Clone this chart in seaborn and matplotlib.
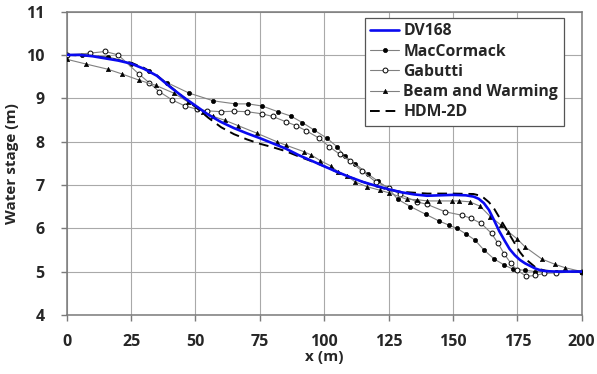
import matplotlib
matplotlib.use("Agg")
import matplotlib.pyplot as plt
import seaborn as sns

# Reference solution
dv_x = [0, 5, 10, 15, 20, 25, 30, 35, 40, 45, 50, 55, 60, 65, 70, 75, 80, 85, 90, 95,
        100, 105, 110, 115, 120, 125, 130, 135, 140, 145, 150, 155, 158, 160, 162, 164,
        166, 168, 170, 172, 174, 176, 178, 180, 182, 184, 186, 190, 195, 200]
dv_y = [10.0, 10.0, 9.97, 9.92, 9.87, 9.8, 9.68, 9.52, 9.27, 9.04, 8.83, 8.62, 8.45,
        8.31, 8.19, 8.08, 7.96, 7.84, 7.69, 7.56, 7.43, 7.3, 7.18, 7.07, 6.98, 6.9, 6.83,
        6.78, 6.75, 6.76, 6.77, 6.76, 6.73, 6.68, 6.58, 6.42, 6.18, 5.93, 5.72, 5.52,
        5.38, 5.27, 5.19, 5.13, 5.07, 5.03, 5.01, 5.0, 5.0, 5.0]

# MacCormack scheme
mc_x = [0, 6, 16, 25, 32, 39, 47.5, 57, 65.5, 70.5, 76, 82, 87, 91.5, 96, 101, 105,
        108, 112, 117, 121, 125, 128.5, 133.5, 139.5, 144.5, 148.5, 151.5, 155, 158.5,
        162, 166, 170, 173.5, 178, 182, 190, 200]
mc_y = [10.0, 10.0, 9.96, 9.8, 9.62, 9.36, 9.12, 8.94, 8.87, 8.87, 8.82, 8.69, 8.59,
        8.44, 8.27, 8.08, 7.88, 7.66, 7.49, 7.25, 7.08, 6.92, 6.67, 6.5, 6.32, 6.17,
        6.07, 6.0, 5.87, 5.73, 5.5, 5.29, 5.15, 5.05, 5.03, 5.0, 5.0, 5.0]

# Gabutti scheme
gb_x = [0, 9, 15, 20, 28, 32, 36, 41, 46, 50.5, 54.5, 60, 65, 70, 76, 80, 85, 89, 93,
        98, 102, 106, 110, 114.5, 120, 125, 129.5, 136, 140, 147, 153.5, 157, 161, 165,
        167.5, 170, 172.5, 175, 178.5, 182, 185.5, 190, 200]
gb_y = [10.0, 10.04, 10.08, 10.0, 9.56, 9.36, 9.15, 8.96, 8.82, 8.75, 8.71, 8.69, 8.7,
        8.69, 8.64, 8.58, 8.46, 8.37, 8.25, 8.08, 7.88, 7.71, 7.55, 7.33, 7.07, 6.94,
        6.78, 6.61, 6.55, 6.38, 6.3, 6.23, 6.11, 5.88, 5.65, 5.4, 5.19, 5.03, 4.89,
        4.91, 4.96, 4.97, 5.0]

# Beam and Warming scheme
bw_x = [0, 7.5, 16, 21.5, 28, 34.5, 41.5, 47, 53, 57, 61.5, 66.5, 74, 81.5, 85, 92, 95,
        98.5, 102.5, 105.5, 109, 112, 116.5, 121.5, 125, 132, 136, 140, 144.5, 149.5,
        152.5, 156.5, 160.5, 164.5, 168.5, 171.5, 175, 178, 184.5, 189.5, 193.5, 200]
bw_y = [9.9, 9.79, 9.67, 9.56, 9.42, 9.3, 9.12, 8.92, 8.69, 8.58, 8.49, 8.37, 8.19, 8.0,
        7.92, 7.77, 7.69, 7.56, 7.44, 7.3, 7.2, 7.07, 6.96, 6.88, 6.82, 6.67, 6.66, 6.63,
        6.63, 6.63, 6.63, 6.61, 6.51, 6.27, 6.08, 5.92, 5.75, 5.57, 5.29, 5.17, 5.09, 5.0]

# HDM-2D model
hd_x = [0, 10, 20, 25, 30, 35, 40, 45, 50, 55, 60, 65, 70, 75, 80, 85, 90, 95, 100, 105,
        110, 115, 120, 125, 130, 140, 150, 158, 160, 162, 164, 166, 168, 170, 172, 174,
        176, 178, 180, 182, 184, 186, 190, 200]
hd_y = [10.0, 9.98, 9.88, 9.82, 9.7, 9.53, 9.28, 9.04, 8.8, 8.55, 8.33, 8.17, 8.05, 7.95,
        7.87, 7.78, 7.66, 7.55, 7.43, 7.3, 7.18, 7.07, 6.97, 6.89, 6.84, 6.8, 6.8, 6.79,
        6.76, 6.7, 6.6, 6.45, 6.25, 6.05, 5.85, 5.65, 5.45, 5.3, 5.2, 5.1, 5.05, 5.02,
        5.0, 5.0]

x_ticks = [0, 25, 50, 75, 100, 125, 150, 175, 200]
y_ticks = [4, 5, 6, 7, 8, 9, 10, 11]

sns.set_style("white")
plt.rcParams["font.family"] = ["Open Sans", "DejaVu Sans"]
plt.rcParams["font.weight"] = "bold"

fig = plt.figure(figsize=(5.97, 3.74), dpi=100)
ax = fig.add_axes([0.1117, 0.158, 0.8627, 0.811])

thin = dict(color="#808080", linewidth=0.8, estimator=None, sort=False, ax=ax)

sns.lineplot(x=dv_x, y=dv_y, color="#0a0af0", linewidth=1.9, estimator=None,
             sort=False, ax=ax, label="DV168", zorder=6)
sns.lineplot(x=mc_x, y=mc_y, marker="o", markersize=3.0, markerfacecolor="black",
             markeredgecolor="black", markeredgewidth=0.5, label="MacCormack",
             zorder=3, **thin)
sns.lineplot(x=gb_x, y=gb_y, marker="o", markersize=3.5, markerfacecolor="white",
             markeredgecolor="black", markeredgewidth=0.7, label="Gabutti",
             zorder=3, **thin)
sns.lineplot(x=bw_x, y=bw_y, marker="^", markersize=3.2, markerfacecolor="black",
             markeredgecolor="black", markeredgewidth=0.4, label="Beam and Warming",
             zorder=3, **thin)
sns.lineplot(x=hd_x, y=hd_y, color="black", linewidth=1.4, linestyle=(0, (5, 3)),
             estimator=None, sort=False, ax=ax, label="HDM-2D", zorder=5)

ax.set_xlim(0, 200)
ax.set_ylim(4, 11)
ax.set_xticks(x_ticks)
ax.set_yticks(y_ticks)
ax.set_xticklabels([str(v) for v in x_ticks], fontsize=11.5, fontweight="bold")
ax.set_yticklabels([str(v) for v in y_ticks], fontsize=11.5, fontweight="bold")
ax.set_xlabel("x (m)", fontsize=11, fontweight="bold", labelpad=0)
ax.set_ylabel("Water stage (m)", fontsize=11, fontweight="bold", labelpad=5)

ax.grid(True, color="#a9a9a9", linewidth=0.8)
ax.set_axisbelow(True)
for s in ax.spines.values():
    s.set_color("#7a7a7a")
    s.set_linewidth(1.1)
ax.tick_params(axis="both", direction="out", length=4, width=1.0, color="#7a7a7a",
               bottom=True, left=True)
ax.tick_params(axis="x", pad=10)
ax.tick_params(axis="y", pad=12)

# legend box spans a fixed width in the upper right, text packed from the left
leg = ax.legend(loc="upper left", bbox_to_anchor=(0.579, 0.637, 0.3875, 0.342),
                mode="expand", frameon=True, fancybox=False, edgecolor="#555555",
                framealpha=1, prop={"weight": "bold", "size": 11.3},
                handlelength=1.8, handletextpad=0.3, borderpad=0.35,
                labelspacing=0.27, borderaxespad=0)
leg.get_frame().set_linewidth(0.9)

fig.savefig("out.png", dpi=100)
